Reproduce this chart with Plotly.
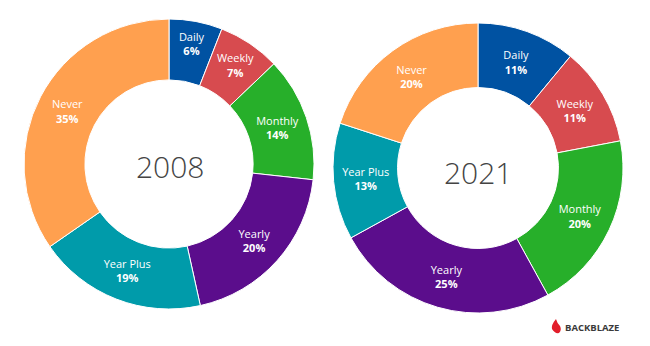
import plotly.graph_objects as go

categories = ["Daily", "Weekly", "Monthly", "Yearly", "Year Plus", "Never"]
values_2008 = [6, 7, 14, 20, 19, 35]
values_2021 = [11, 11, 20, 25, 13, 20]
colors = ["#0052A2", "#D74B4F", "#27AF2A", "#5B0D8C", "#009BAA", "#FFA04F"]

W, H = 650, 346

def dom(cx, cy, r):
    # cx, cy in pixels from top-left
    return dict(x=[(cx - r) / W, (cx + r) / W],
                y=[(H - cy - r) / H, (H - cy + r) / H])

fig = go.Figure()
for vals, d, hole in [(values_2008, dom(169, 164, 145), 0.58),
                      (values_2021, dom(478, 168, 145), 0.555)]:
    fig.add_trace(go.Pie(
        labels=categories, values=vals, text=[f"{v}%" for v in vals],
        texttemplate="%{label}<br><b>%{text}</b>",
        textposition="inside", insidetextorientation="horizontal",
        textfont=dict(family="Open Sans", size=11, color="white"),
        marker=dict(colors=colors, line=dict(color="white", width=1)),
        sort=False, direction="clockwise", rotation=0, hole=hole,
        domain=d, showlegend=False, hoverinfo="label+text",
    ))

fig.add_annotation(x=170 / W, y=(H - 166) / H, xref="paper", yref="paper",
                   xanchor="center", yanchor="middle",
                   text="2008", showarrow=False,
                   font=dict(family="Open Sans", size=30, color="#444444", weight=300))
fig.add_annotation(x=478 / W, y=(H - 172) / H, xref="paper", yref="paper",
                   xanchor="center", yanchor="middle",
                   text="2021", showarrow=False,
                   font=dict(family="Open Sans", size=30, color="#444444", weight=300))

# Backblaze logo text
fig.add_annotation(x=563 / W, y=(H - 327) / H, xref="paper", yref="paper",
                   xanchor="left", yanchor="middle", text="<b>BACKBLAZE</b>", showarrow=False,
                   font=dict(family="Open Sans", size=9.5, color="#3a3a3a"))
# flame icon
def px(x, y):
    return f"{x / W:.5f},{(H - y) / H:.5f}"
flame = ("M " + px(556, 319) + " Q " + px(551, 325) + " " + px(552, 329) +
         " Q " + px(555, 334) + " " + px(559, 333) + " Q " + px(562, 330) + " " + px(560, 326) +
         " Q " + px(557, 323) + " " + px(556, 319) + " Z")
fig.add_shape(type="path", xref="paper", yref="paper", path=flame,
              fillcolor="#E21E2B", line=dict(width=0))

fig.update_layout(width=W, height=H, margin=dict(l=0, r=0, t=0, b=0),
                  paper_bgcolor="white", plot_bgcolor="white")
fig.write_html("out.html")
